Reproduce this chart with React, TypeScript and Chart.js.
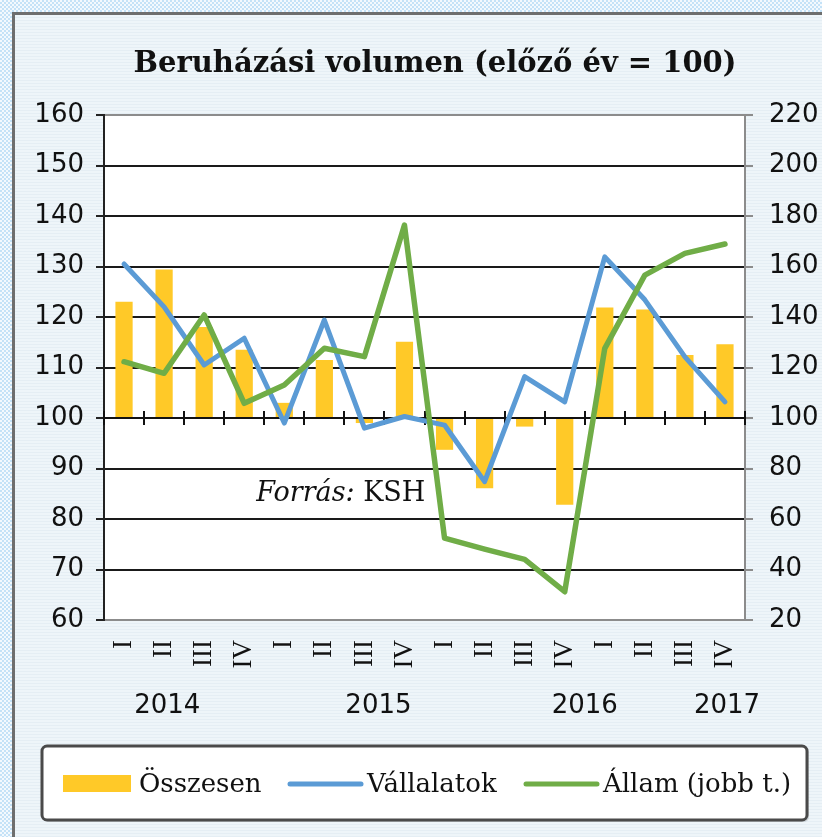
import { useEffect, useRef } from "react";
import { Chart, registerables } from "chart.js";

Chart.register(...registerables);

const categories = ["I", "II", "III", "IV", "I", "II", "III", "IV", "I", "II", "III", "IV", "I", "II", "III", "IV"];
const years = ["2014", "2015", "2016", "2017"];
const yearLabelAt = [1.08, 6.35, 11.5, 15.05];
const osszesen = [123.0, 129.4, 118.0, 113.5, 103.0, 111.5, 99.0, 115.1, 93.7, 86.1, 98.3, 82.8, 121.9, 121.5, 112.5, 114.6];
const vallalatok = [130.5, 122.0, 110.5, 115.8, 99.0, 119.4, 98.0, 100.3, 98.6, 87.4, 108.2, 103.2, 131.9, 123.4, 112.1, 103.2];
const allam = [122.3, 117.7, 140.8, 105.8, 113.1, 127.6, 124.3, 176.4, 52.4, 48.1, 44.0, 31.2, 127.6, 156.6, 165.2, 168.9];
const leftAxis = { min: 60, max: 160, step: 10 };
const rightAxis = { min: 20, max: 220, step: 20 };

const TITLE = "Beruházási volumen (előző év = 100)";
const YELLOW = "#FFC928";
const BLUE = "#5B9BD5";
const GREEN = "#70AD47";

const customPlugin = {
  id: "custom",
  beforeDraw(chart: any) {
    const { ctx, chartArea: a } = chart;
    ctx.save();
    ctx.fillStyle = "#ffffff";
    ctx.fillRect(a.left, a.top, a.right - a.left, a.bottom - a.top);
    ctx.restore();
  },
  afterDatasetDraw(chart: any, args: any) {
    if (args.index !== 0) return;
    const { ctx, chartArea: a } = chart;
    const x = chart.scales.x;
    const y = chart.scales.y.getPixelForValue(100);
    ctx.save();
    ctx.strokeStyle = "#111";
    ctx.lineWidth = 2;
    ctx.beginPath();
    ctx.moveTo(a.left, y);
    ctx.lineTo(a.right, y);
    for (let i = 0; i <= categories.length; i++) {
      const px = Math.round(x.getPixelForValue(i - 0.5));
      ctx.moveTo(px, y - 7);
      ctx.lineTo(px, y + 7);
    }
    ctx.stroke();
    ctx.restore();
  },
  afterDraw(chart: any) {
    const { ctx } = chart;
    const x = chart.scales.x;
    const yl = chart.scales.y;
    ctx.save();
    // title
    ctx.fillStyle = "#111";
    ctx.font = "bold 29px 'DejaVu Serif'";
    ctx.textAlign = "center";
    ctx.textBaseline = "alphabetic";
    ctx.fillText(TITLE, 435, 72);
    // years
    ctx.font = "26px 'DejaVu Sans'";
    years.forEach((t, i) => {
      ctx.fillText(t, x.getPixelForValue(yearLabelAt[i]), 713);
    });
    // source
    ctx.textAlign = "left";
    ctx.textBaseline = "middle";
    const sx = x.getPixelForValue(3.3);
    const sy = yl.getPixelForValue(85);
    ctx.font = "italic 27px 'DejaVu Serif'";
    ctx.fillText("Forrás:", sx, sy);
    const w = ctx.measureText("Forrás: ").width;
    ctx.font = "27px 'DejaVu Serif'";
    ctx.fillText("KSH", sx + w, sy);
    // legend box
    const bx = 42, by = 746, bw = 765, bh = 74;
    ctx.fillStyle = "rgba(0,0,0,0.12)";
    ctx.beginPath();
    ctx.roundRect(bx + 2, by + 2, bw, bh, 5);
    ctx.fill();
    ctx.fillStyle = "#fff";
    ctx.strokeStyle = "#4a4a4a";
    ctx.lineWidth = 3;
    ctx.beginPath();
    ctx.roundRect(bx, by, bw, bh, 5);
    ctx.fill();
    ctx.stroke();
    const ly = 784;
    ctx.fillStyle = YELLOW;
    ctx.fillRect(63, ly - 9, 68, 17);
    ctx.lineCap = "round";
    ctx.lineWidth = 5;
    ctx.strokeStyle = BLUE;
    ctx.beginPath();
    ctx.moveTo(290, ly);
    ctx.lineTo(361, ly);
    ctx.stroke();
    ctx.strokeStyle = GREEN;
    ctx.beginPath();
    ctx.moveTo(526, ly);
    ctx.lineTo(597, ly);
    ctx.stroke();
    ctx.fillStyle = "#111";
    ctx.font = "26px 'DejaVu Serif'";
    ctx.textBaseline = "middle";
    const ds = chart.data.datasets;
    ctx.fillText(ds[0].label, 139, ly + 1);
    ctx.fillText(ds[1].label, 367, ly + 1);
    ctx.fillText(ds[2].label, 603, ly + 1);
    ctx.restore();
  },
};

export default function App() {
  const ref = useRef<HTMLCanvasElement | null>(null);
  useEffect(() => {
    if (!ref.current) return;
    const edge = (v: number, lo: number, hi: number) => v === lo || v === hi;
    const chart = new Chart(ref.current, {
      type: "bar",
      data: {
        labels: categories,
        datasets: [
          {
            type: "bar",
            label: "Összesen",
            data: osszesen,
            base: 100,
            backgroundColor: YELLOW,
            barPercentage: 0.43,
            categoryPercentage: 1,
            yAxisID: "y",
            order: 2,
          } as any,
          {
            type: "line",
            label: "Vállalatok",
            data: vallalatok,
            borderColor: BLUE,
            backgroundColor: BLUE,
            borderWidth: 5,
            pointRadius: 0,
            tension: 0,
            borderJoinStyle: "round",
            borderCapStyle: "round",
            yAxisID: "y",
            order: 1,
          },
          {
            type: "line",
            label: "Állam (jobb t.)",
            data: allam,
            borderColor: GREEN,
            backgroundColor: GREEN,
            borderWidth: 5.5,
            pointRadius: 0,
            tension: 0,
            borderJoinStyle: "round",
            borderCapStyle: "round",
            yAxisID: "y1",
            order: 0,
          },
        ],
      },
      options: {
        responsive: false,
        animation: false,
        devicePixelRatio: 1,
        layout: { padding: { top: 115, left: 0, right: 0, bottom: 0 } },
        plugins: {
          legend: { display: false },
          title: { display: false },
          tooltip: { enabled: false },
        },
        scales: {
          x: {
            offset: true,
            grid: { display: false, drawTicks: false },
            border: { display: false },
            ticks: {
              autoSkip: false,
              maxRotation: 90,
              minRotation: 90,
              padding: 20,
              color: "#111",
              font: { family: "'Liberation Serif'", size: 27 },
            },
            afterFit: (s: any) => {
              s.height = 217;
            },
          },
          y: {
            position: "left",
            min: leftAxis.min,
            max: leftAxis.max,
            ticks: {
              stepSize: leftAxis.step,
              padding: 12,
              color: "#111",
              font: { family: "'DejaVu Sans'", size: 26 },
            },
            grid: {
              color: (c: any) => (edge(c.tick?.value, leftAxis.min, leftAxis.max) ? "#8c8c8c" : "#1a1a1a"),
              lineWidth: 2,
              tickLength: 8,
              tickColor: "#222",
            },
            border: { color: "#222", width: 2 },
            afterFit: (s: any) => {
              s.width = 104;
            },
          },
          y1: {
            position: "right",
            min: rightAxis.min,
            max: rightAxis.max,
            ticks: {
              stepSize: rightAxis.step,
              padding: 16,
              color: "#111",
              font: { family: "'DejaVu Sans'", size: 26 },
            },
            grid: {
              drawOnChartArea: false,
              color: "#8c8c8c",
              lineWidth: 2,
              tickLength: 8,
            },
            border: { color: "#8c8c8c", width: 2 },
            afterFit: (s: any) => {
              s.width = 77;
            },
          },
        },
      },
      plugins: [customPlugin],
    });
    return () => chart.destroy();
  }, []);

  return (
    <div
      style={{
        position: "absolute",
        left: 0,
        top: 0,
        width: 822,
        height: 837,
        overflow: "hidden",
        background: "repeating-conic-gradient(#c4e2f7 0% 25%, #f3f9fe 0% 50%) 0 0 / 4px 4px",
      }}
    >
      <div
        style={{
          position: "absolute",
          left: 12,
          top: 12,
          width: 830,
          height: 840,
          borderLeft: "3px solid #6e6e6e",
          borderTop: "3px solid #6e6e6e",
          background: "repeating-linear-gradient(to bottom, #eef5f9 0px, #eef5f9 2px, #e5eef4 2px, #e5eef4 3px)",
        }}
      />
      <canvas ref={ref} width={822} height={837} style={{ position: "absolute", left: 0, top: 0 }} />
    </div>
  );
}
